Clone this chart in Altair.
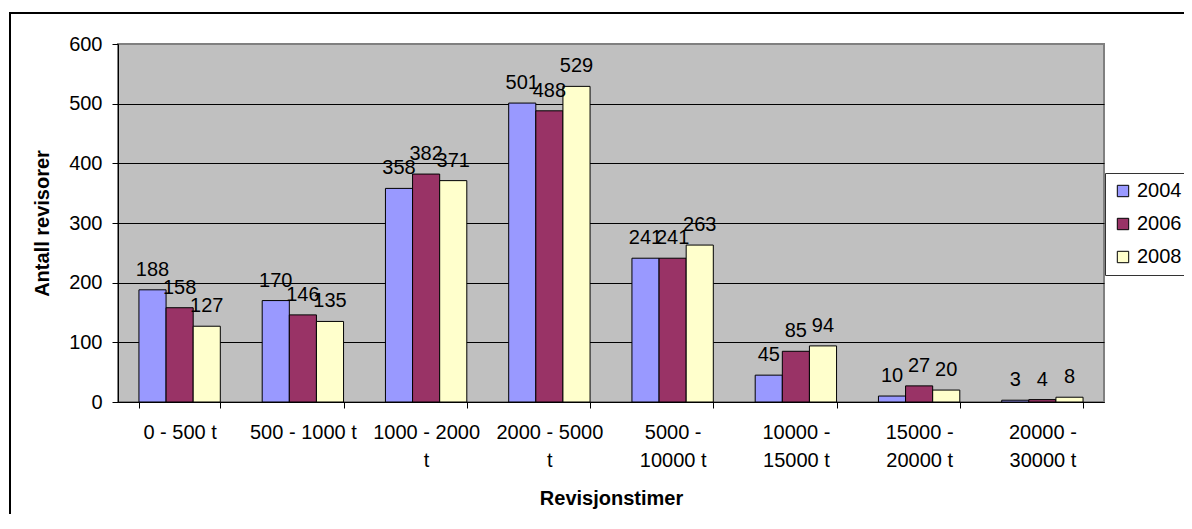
import altair as alt
import pandas as pd

categories = ["0 - 500 t", "500 - 1000 t", "1000 - 2000\nt", "2000 - 5000\nt",
              "5000 -\n10000 t", "10000 -\n15000 t", "15000 -\n20000 t", "20000 -\n30000 t"]
years = ["2004", "2006", "2008"]
v2004 = [188, 170, 358, 501, 241, 45, 10, 3]
v2006 = [158, 146, 382, 488, 241, 85, 27, 4]
v2008 = [127, 135, 371, 529, 263, 94, 20, 8]
colors = ["#9999FF", "#993366", "#FFFFCC"]

rows = []
for yr, vals in zip(years, [v2004, v2006, v2008]):
    for c, v in zip(categories, vals):
        rows.append({"cat": c, "year": yr, "value": v})
df = pd.DataFrame(rows)

FONT = "Liberation Sans"

x = alt.X("cat:N", sort=categories, title="Revisjonstimer",
          scale=alt.Scale(paddingInner=0.34, paddingOuter=0.17),
          axis=alt.Axis(labelExpr="isValid(datum.value) ? split(datum.value, '\\n') : ''",
                        labelAngle=0,
                        labelLimit=0, labelOverlap=False, labelLineHeight=28,
                        labelPadding=14, tickBand="extent", tickSize=6,
                        titlePadding=18, domainColor="black", tickColor="black"))
xo = alt.XOffset("year:N", sort=years, scale=alt.Scale(paddingInner=0, paddingOuter=0))
y = alt.Y("value:Q", title="Antall revisorer",
          scale=alt.Scale(domain=[0, 600], nice=False),
          axis=alt.Axis(values=[0, 100, 200, 300, 400, 500, 600], tickSize=6,
                        labelPadding=10, titlePadding=16,
                        gridColor=alt.condition("datum.value === 600", alt.value("#808080"), alt.value("black")),
                        domainColor="black", tickColor="black"))

base = alt.Chart(df)
bars = base.mark_bar(stroke="black", strokeWidth=1).encode(
    x=x, xOffset=xo, y=y,
    color=alt.Color("year:N", sort=years, title=None,
                    scale=alt.Scale(domain=years, range=colors),
                    legend=alt.Legend(orient="none", legendX=987, legendY=129,
                                      symbolType="square", symbolSize=130,
                                      symbolStrokeColor="black", symbolStrokeWidth=1,
                                      labelFontSize=20, labelFont=FONT, labelColor="black",
                                      padding=8, rowPadding=13, strokeColor="#333333",
                                      fillColor="white"))
)
labels = base.mark_text(baseline="alphabetic", dy=-14, fontSize=20, font=FONT, color="black").encode(
    x=x, xOffset=xo, y=y, text="value:Q"
)
frame = alt.Chart(pd.DataFrame({"a": [0]})).mark_rect(
    fill=None, stroke="black", strokeWidth=2
).encode(x=alt.value(-108), x2=alt.value(1300), y=alt.value(-31), y2=alt.value(700))

chart = alt.layer(frame, bars, labels).properties(
    width=986, height=358,
    autosize=alt.AutoSizeParams(type="none"),
    padding={"left": 110, "top": 36, "right": 80, "bottom": 112},
    background="white",
).configure_view(
    fill="#C0C0C0", stroke="#808080", strokeWidth=2
).configure_axis(
    labelFont=FONT, labelFontSize=20, labelColor="black",
    titleFont=FONT, titleFontSize=20, titleFontWeight="bold", titleColor="black",
    grid=False
).configure_axisY(grid=True, gridWidth=1)

chart.save("out.html", embed_options={"renderer": "svg", "actions": False})
